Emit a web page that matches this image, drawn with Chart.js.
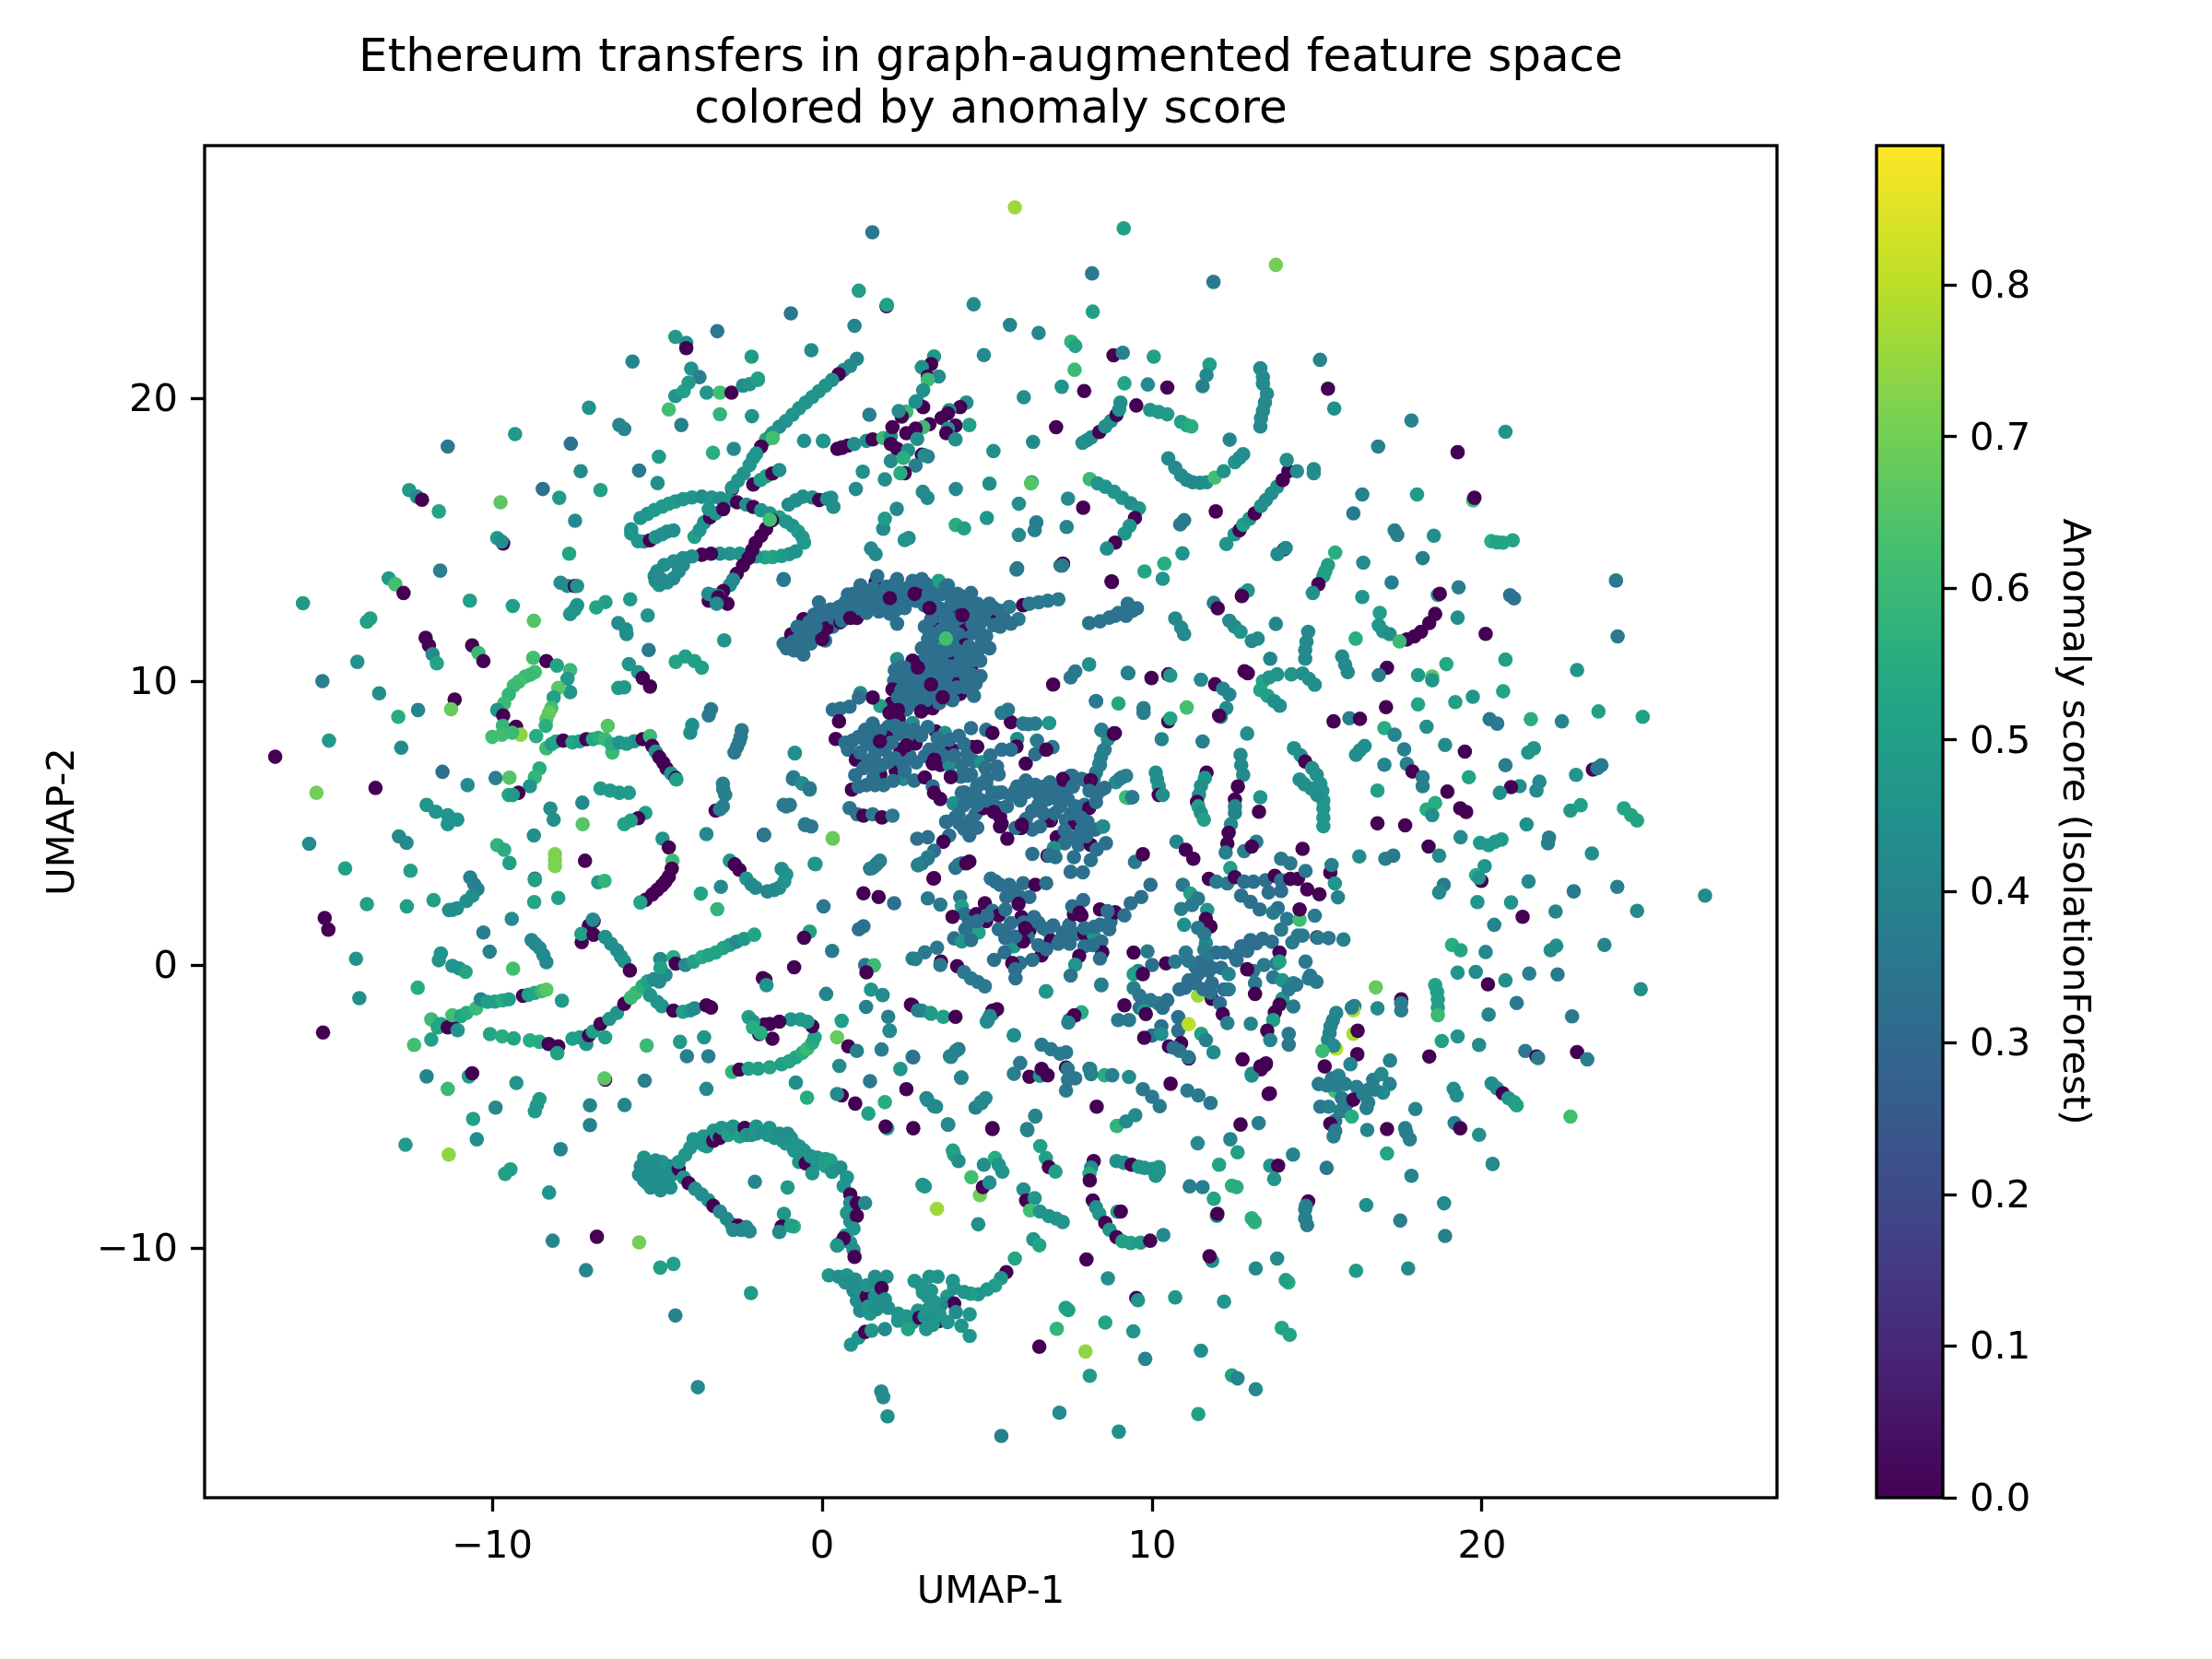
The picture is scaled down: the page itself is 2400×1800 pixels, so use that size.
<!DOCTYPE html>
<html>
<head>
<meta charset="utf-8">
<title>Ethereum transfers</title>
<script src="https://cdn.jsdelivr.net/npm/chart.js@4"></script>
<style>
  html, body { margin: 0; background: #fff; }
  #wrap { position: relative; width: 2400px; height: 1800px; }
  canvas { position: absolute; top: 0; }
</style>
</head>
<body>
<div id="wrap">
  <canvas id="scatter" width="2400" height="1800" style="left:0"></canvas>
  <canvas id="colorbar" width="400" height="1800" style="left:2000px"></canvas>
</div>
<script>
// tick labels
const xTicks = [-10, 0, 10, 20];
const yTicks = [-10, 0, 10, 20];
const barTicks = [0, 0.1, 0.2, 0.3, 0.4, 0.5, 0.6, 0.7, 0.8];
const scoreMax = 0.892;

// viridis
const viridisStops = ['#440154', '#482475', '#414487', '#355f8d', '#2a788e', '#21918c', '#22a884', '#44bf70', '#7ad151', '#bddf26', '#fde725'];

// points: [umap1, umap2, score]
const upperLeft = [
[-0.95,23.0,.36],[0.98,22.56,.4],[-3.18,22.37,.36],[-4.45,22.17,.48],[-4.12,21.96,.44],[-4.12,21.77,0],[-0.33,21.7,.42],[-5.75,21.3,.4],[-2.14,21.47,.48],[-3.97,21.05,.45],[-3.72,20.75,.38],
[-4.45,20.08,.46],[-4.2,20.25,.5],[-4.05,20.55,.48],[-3.5,20.2,.46],[-3.1,20.2,.62],[-2.75,20.2,0],[-2.4,20.45,.42],[-2.2,20.5,.46],[-1.95,20.65,.52],[-1.95,20.7,.5],
[-7.07,19.67,.45],[-9.31,18.74,.48],[-11.35,18.3,.36],[-7.62,18.4,.34],[-6.15,19.06,.4],[-6.0,18.92,.4],[-4.65,19.61,.62],[-4.27,19.06,.38],[-3.1,19.44,.58],[-2.13,19.37,.45],[-3.31,18.08,.55],[-2.68,18.22,.42],[-4.95,17.94,.48],[-5.55,17.45,.36],[-7.32,17.43,.42],[-4.99,17.01,.44],[-6.72,16.76,.5],[-8.47,16.8,.34],[-7.97,16.49,.48],[-9.75,16.33,.66],[-7.49,15.68,.42],[-12.52,16.76,.48],[-12.28,16.53,.42],[-12.13,16.42,0],[-11.62,16.01,.52],[-9.85,15.07,.48],[-9.67,14.88,0],[-9.72,14.95,.44],[-7.67,14.52,.52],[-11.58,13.92,.38],[-13.14,13.65,.48],[-12.94,13.44,.62],[-12.69,13.13,0],[-7.93,13.49,.44],[-7.72,13.38,.44],[-7.5,13.38,0],[-7.43,13.38,.45],[-5.82,12.91,.48],[-6.57,12.81,.5],[-6.85,12.62,.52],[-7.43,12.7,.46],[-7.5,12.55,.46],[-7.64,12.39,.46],[-5.29,12.34,.46],[-15.74,12.77,.48],[-10.68,12.86,.5],[-9.38,12.67,.5],[-8.74,12.15,.65],[-13.7,12.23,.5],[-13.8,12.12,.5],[-6.18,12.07,.42],[-5.93,11.68,.44],[-5.95,11.85,.44],[-2.97,11.46,.46],[-1.17,13.59,.36],
[-12.02,11.55,0],[-11.92,11.28,0],[-11.81,10.97,.42],[-11.68,10.65,.52],[-10.61,11.28,0],[-10.42,11.01,.6],[-10.27,10.73,0],[-5.26,11.12,.36],[-4.44,10.7,.52],[-4.15,10.89,.5],[-3.87,10.73,.5],[-3.65,10.49,.5],[-5.86,10.62,.46],[-5.58,10.34,.46],[-5.44,10.13,0],[-5.22,9.83,0],[-14.09,10.7,.45],[-15.15,10.02,.38],[-13.43,9.59,.44],[-11.14,9.37,0],[-11.25,9.03,.68],[-12.25,9.0,.4],[-12.85,8.76,.55],[-6.18,9.78,.48],[-6.0,9.8,.48],[-3.37,9.03,.36],[-3.44,8.81,.36],[-3.94,8.47,.44],[-4.0,8.2,.44],[-2.44,8.29,.36],[-2.47,8.05,.36],[-2.51,7.89,.36],[-2.58,7.7,.36],[-2.66,7.5,.36],[-0.83,7.47,.42],[-14.95,7.92,.48],[-12.76,7.67,.42],[-16.58,7.35,0],[-11.51,6.82,.33],[-13.54,6.25,0],[-15.33,6.08,.7],[-10.75,6.35,.42],[-9.9,6.6,.38],[-9.48,6.61,.65],[-7.27,5.73,.42],[-8.24,5.52,.44],[-8.14,5.13,.44],[-7.26,4.97,.65],
// green loop
[-8.76,10.84,.62],[-8.71,10.34,.62],[-8.85,10.25,.6],[-9.0,10.18,.6],[-9.2,10.0,.62],[-9.35,9.86,.6],[-9.5,9.55,.58],[-9.64,9.23,.6],[-9.85,9.0,.46],[-9.67,8.81,0],[-9.68,8.44,.58],[-9.28,8.41,0],[-9.14,8.13,.74],[-9.71,8.13,.62],[-10.0,8.05,.62],[-9.4,8.2,.6],[-8.67,8.08,.55],[-8.36,10.73,0],[-8.04,10.57,.52],[-7.64,10.41,.6],[-7.72,10.1,.48],[-7.64,9.63,.46],[-8.0,9.78,.66],[-8.14,9.44,.5],[-8.21,9.07,.62],[-8.28,8.9,.68],[-8.36,8.68,.66],[-8.38,8.44,.56],
// horizontal green/purple line
[-8.36,7.65,.6],[-8.2,7.8,.5],[-8.07,7.89,.52],[-7.85,7.92,0],[-7.57,7.86,.52],[-7.35,7.9,.5],[-7.15,7.97,0],[-6.95,7.97,.52],[-6.79,8.02,.56],[-6.5,8.44,.65],[-6.58,7.97,.6],[-6.36,7.5,.6],[-6.4,7.8,.55],[-6.15,7.85,.46],[-5.93,7.81,.48],[-5.7,7.9,.46],[-5.44,7.97,0],[-5.22,8.08,.6],[-5.15,7.73,0],[-5.05,7.53,.46],[-4.94,7.34,0],[-4.82,7.14,0],[-4.72,6.94,0],[-4.58,6.76,.46],[-4.44,6.6,0],[-4.42,6.55,.5],
[-8.57,6.94,.55],[-8.71,6.63,.58],[-8.86,6.31,.46],[-9.21,6.08,0],[-9.5,6.0,.52],[-9.38,6.0,.48],[-6.72,6.23,.48],[-6.43,6.16,.48],[-6.15,6.08,.48],[-5.86,6.08,.48],[-3.01,6.4,.38],[-2.94,6.0,.38],[-3.0,6.2,.38],[-3.01,5.6,.38],[-3.23,5.45,0],[-3.1,5.5,.38],[-1.09,5.6,.36],[-.87,6.63,.42],[-.6,6.4,.42],[-.38,6.19,.42],[-.52,4.97,.4],
[-11.99,5.65,.46],[-11.71,5.41,.46],[-11.35,5.29,.46],[-11.06,5.13,.46],[-11.35,4.97,.46],[-6.0,4.97,.52],[-5.36,5.37,.5],[-5.58,5.18,0],[-5.8,5.1,.5],
// long diagonal
[1.05,21.4,.4],[.85,21.15,.42],[.65,21.0,.42],[.5,20.85,0],[.3,20.65,.44],[.1,20.45,.46],[-.1,20.25,.46],[-.3,20.05,.46],[-.5,19.85,.46],[-.7,19.65,.46],[-.9,19.42,.46],[-1.1,19.2,.46],[-1.3,19.0,.44],[-1.5,18.78,.46],[-1.7,18.55,.52],[-1.55,18.7,.46],[-1.5,18.6,.62],[-1.85,18.3,0],[-2.0,18.05,.46],[-2.09,17.9,.46],[-2.2,17.65,.46],[-2.38,17.35,.46],[-2.55,17.1,.46],[-2.73,16.8,0],[-2.73,16.85,.46],[-2.94,16.4,.46],
[-2.09,16.96,0],[-1.87,17.12,.48],[-1.7,17.25,.5],[-1.51,17.35,0],[-1.3,17.47,.44],
// loop
[-5.79,15.38,.46],[-5.51,15.78,.46],[-5.3,15.92,.46],[-5.08,16.06,.48],[-4.85,16.18,.48],[-4.65,16.28,.48],[-4.45,16.36,.48],[-4.22,16.44,.46],[-3.95,16.5,.46],[-3.65,16.53,.44],[-3.35,16.5,.46],[-3.08,16.47,.44],[-2.85,16.4,.46],[-2.58,16.33,0],[-2.3,16.25,.44],[-2.09,16.17,0],[-1.85,16.05,.46],[-1.59,15.94,.46],[-1.3,15.8,.5],[-1.09,15.65,.46],[-.9,15.5,.46],[-.73,15.3,.48],[-.6,15.1,.46],[-.55,14.91,.48],[-.8,14.6,.46],[-1.0,14.5,.46],[-1.23,14.44,.48],[-1.5,14.4,.5],[-1.73,14.39,.52],[-2.0,14.42,.48],
[-5.79,15.23,.46],[-5.58,14.96,.46],[-5.4,14.95,.46],[-5.22,14.99,0],[-5.05,15.1,.46],[-4.86,15.2,.44],[-4.7,15.3,.44],[-4.51,15.34,.44],
[-2.5,14.52,.46],[-2.8,14.52,.46],[-3.1,14.52,.44],[-3.37,14.52,0],[-3.65,14.48,0],[-3.95,14.42,.44],[-4.22,14.36,.44],[-4.5,14.25,.44],[-4.79,14.12,.44],[-5.0,13.9,.42],[-5.08,13.73,.42],[-5.05,13.55,.42],[-4.94,13.41,.44],[-4.7,13.5,.44],[-4.51,13.65,.42],[-4.35,13.9,.42],[-4.22,14.12,.42],[-4.85,13.6,.42],
[-1.52,15.7,0],[-1.7,15.4,0],[-1.85,15.15,0],[-2.02,14.9,0],[-2.12,14.65,0],[-2.23,14.36,0],[-2.4,14.1,0],[-2.59,13.81,0],[-2.7,13.6,.42],[-2.8,13.41,.42],[-3.0,13.2,0],[-3.15,13.02,.42],[-3.44,12.86,0],[-3.45,13.1,.42],[-3.3,13.05,.44],[-3.15,12.98,0],[-2.87,12.75,0],[-3.2,12.75,.42],
[-1.59,15.72,.62],[-3.87,15.11,.5],[-3.72,15.35,.46],[-3.58,15.62,.46],[-3.4,15.8,0],[-3.23,15.94,.46],[-3.44,16.09,.46],[-3.0,16.09,0],
[-1.02,16.25,.42],[-.8,16.4,.44],[-.59,16.53,.44],[-.3,16.5,.44],[-.09,16.41,0],[.15,16.45,.44],[.34,16.17,.44],[.27,16.49,.44]
];

const upperRight = [
[5.84,26.74,.76],[9.14,26,.5],[1.52,25.86,.36],[1.11,23.8,.5],[1.95,23.25,0],[1.96,23.3,.5],[8.18,24.41,.36],[13.75,24.71,.7],[11.86,24.11,.36],[4.59,23.32,.42],[8.2,23.06,.5],[5.69,22.59,.4],[6.56,22.31,.42],[7.55,22.0,.58],[7.67,21.85,.52],[7.65,21.01,.6],[4.9,21.53,.42],[8.83,21.52,0],[9.11,21.61,.38],[10.05,21.47,.5],[11.74,21.19,.5],[11.65,20.82,.42],[11.53,20.43,.38],[13.28,21.06,.42],[13.36,20.75,.42],[13.36,20.51,.42],[13.48,20.16,.42],[13.42,19.85,.42],[13.36,19.56,.42],[13.3,19.3,.42],[13.28,19.01,.42],[15.09,21.36,.4],[15.33,20.34,0],[15.52,19.64,.44],[6.11,20.04,.44],[7.26,20.41,.46],[7.94,20.26,0],[9.16,20.53,.52],[9.87,20.49,.42],[10.46,20.38,0],[7.09,18.98,0],[6.39,18.46,.42],[5.19,18.14,.44],[12.35,18.54,.4],
[7.89,18.43,.44],[8.02,18.52,.44],[8.15,18.62,.44],[8.4,18.81,0],[8.58,19.01,.44],[8.75,19.2,.44],[8.92,19.41,0],[9.0,19.6,.44],[9.04,19.85,.44],
[9.52,19.75,0],[9.94,19.59,.46],[10.2,19.52,.48],[10.46,19.44,.48],[10.88,19.17,.5],[11.05,19.05,.52],[11.19,19.01,.56],
[10.49,17.88,.42],[10.7,17.55,.42],[10.88,17.28,.42],[11.05,17.12,.42],[11.23,17.04,.42],[11.45,17.02,.42],[11.65,17.04,.44],[11.9,17.2,.62],[12.17,17.43,.46],[12.51,17.75,.46],[12.65,17.9,.44],[12.76,18.03,.44],
[12.25,14.86,.46],[12.5,15.2,.46],[12.65,15.35,0],[12.76,15.54,.5],[12.95,15.75,.46],[13.11,15.94,0],[13.3,16.2,.44],[13.45,16.41,.44],[13.62,16.65,.44],[13.79,16.88,.44],[13.96,17.12,0],[14.13,17.43,0],[14.08,17.83,.44],[14.39,17.43,.42],[14.9,17.36,.44],[14.9,17.5,.42],
[8.11,17.15,.6],[8.35,17.0,.46],[8.58,16.88,.46],[8.85,16.7,.46],[9.09,16.49,.46],[9.35,16.3,.44],[9.6,16.12,.46],[9.48,15.78,0],[9.32,15.5,.46],[9.17,15.23,.46],[8.88,14.91,0],[8.63,14.7,.44],
[5.07,16.99,.44],[4.05,16.8,.42],[3.19,16.49,.42],[3.05,16.7,.42],[6.35,17.04,.5],[6.33,17.0,.65],[7.45,16.46,.42],[5.96,16.28,.44],[7.91,16.14,0],[11.93,16.01,0],[4.99,15.78,.46],[4.05,15.53,.55],[4.3,15.41,.5],[6.49,15.62,.38],[6.44,15.35,.38],[5.96,15.18,.42],[7.41,15.46,.4],[10.97,15.7,.36],[10.85,15.55,.36],[16.37,16.61,.38],[16.1,15.94,.36],[18.03,16.61,.48],[17.86,19.22,.4],[19.26,18.1,0],[20.71,18.82,.46],[16.85,18.3,.38],[19.73,16.4,.62],[19.77,16.49,0],[17.35,15.34,.38],[17.43,15.18,.38],[18.54,15.15,.44],[20.28,14.96,.56],[20.45,14.92,.52],[20.63,14.91,.52],[20.93,14.99,.52],[18.2,14.36,.38],[16.4,14.2,.42],[14.0,14.67,0],[14.05,14.72,.42],[13.8,14.5,.42],
[15.55,14.56,.55],[15.33,14.12,.5],[15.25,13.9,.5],[15.19,13.73,.5],[15.04,13.44,0],[14.87,13.13,.44],[5.89,13.96,.38],[7.29,14.17,0],[7.22,14.1,.38],[10.92,14.53,.46],[10.37,14.17,.55],[9.77,13.89,.52],[10.32,13.63,.46],[8.78,13.52,0],[17.26,13.5,.38],[12.9,13.22,.46],[12.76,13.1,.46],[12.72,13.02,0],[16.37,12.99,.46],[18.66,13.06,.46],[18.72,13.1,0],[19.29,13.33,.38],[20.97,12.94,.34],[20.85,13.05,.34],[24.06,13.57,.36],[24.11,11.6,.36],[20.11,11.69,0],[19.26,12.26,.44],
[16.9,12.43,.5],[16.87,11.99,.46],[17.0,11.78,.46],[17.2,11.68,.44],[17.72,11.49,0],[17.5,11.42,.6],[17.95,11.6,0],[18.15,11.76,0],[18.4,12.07,0],[18.58,12.39,0],
[13.75,12.04,.4],[11.87,12.78,.38],[11.99,12.59,0],[12.34,12.15,.42],[12.5,11.95,.42],[12.68,11.76,.46],[13.02,11.44,.42],[13.2,11.52,.42],[10.7,12.23,.42],[10.88,11.91,.42],[10.97,11.68,.42],
[14.73,11.76,.42],[14.68,11.4,.42],[14.64,11.12,.42],[14.64,10.81,.42],[16.17,11.52,.55],[20.71,10.78,.5],[18.92,10.62,.54],[22.88,10.41,.46],[18.49,10.18,.66],[18.06,10.23,.48],[18.49,10.05,.46],[17.12,10.49,0],[16.87,10.23,.38],[15.76,10.89,.42],[15.85,10.6,.42],[15.93,10.34,.42],[13.58,10.81,.4],[12.8,10.37,0],[12.9,10.3,0],
[13.36,10.02,.52],[13.55,10.15,.46],[13.79,10.26,.46],[14.22,10.26,.46],[14.56,10.29,.44],[14.75,10.1,.44],[14.93,9.89,.44],[13.28,9.7,.52],[13.5,9.5,.5],[13.7,9.31,.44],[13.87,9.15,.44],
[11.48,10.07,.42],[11.91,9.91,0],[12.15,9.75,.4],[12.34,9.55,.4],[12.25,9.07,.42],[12.08,8.76,.4],[12.03,8.8,0],[10.49,10.26,0],[9.98,10.13,0],[9.28,10.3,.4],[10.55,10.22,.46],[8.3,9.31,.38],[9.74,9.07,.38],[9.74,8.9,.38],[11.05,9.09,.62],[10.49,8.6,0],[10.55,8.7,.52],[10.29,7.97,.4],[11.53,7.89,.38],[12.88,8.17,.44],[15.5,8.6,0],[15.98,8.71,.38],[16.3,8.69,0],[17.09,9.1,0],[18.06,9.2,.52],[19.19,9.28,.5],[19.72,9.47,.46],[20.64,9.66,.52],[20.23,8.68,.36],[20.46,8.52,.36],[21.48,8.68,.55],[22.42,8.6,.4],[23.53,8.95,.5],[24.87,8.76,.5],[17.04,8.36,.55],[17.35,8.13,.4],[18.32,8.41,.44],[18.88,7.77,.42],[19.48,7.53,0],[17.64,7.61,.38],[16.44,7.73,.44],[16.18,7.42,.44],[16.3,7.58,.44],[21.57,7.65,.46],[21.4,7.5,.46],[20.71,7.05,.38],[23.62,7.05,.36],[23.36,6.9,0],[23.5,6.95,.36],[22.85,6.71,.46],[17.04,7.07,.4],[17.72,7.1,.38],[17.89,6.83,0],[18.2,6.63,.38],[18.2,6.31,.38],[19.6,6.63,.52],[21.14,6.31,.44],[20.88,6.28,0],[20.54,6.08,.44],[21.74,6.47,.42],[21.65,6.16,.42],[16.83,6.16,.5],[18.95,6.12,0],[18.58,5.72,.55],[18.32,5.49,.55],[18.49,5.29,.44],[19.34,5.53,0],[19.52,5.4,0],[22.68,5.45,.48],[22.99,5.64,.5],[24.3,5.53,.52],[24.52,5.29,.52],[24.7,5.1,.52],[21.35,4.96,.44],[16.83,5,0],[17.67,4.93,0],
[14.3,7.65,.44],[14.5,7.4,.44],[14.64,7.18,0],[14.85,6.95,.44],[14.99,6.71,.44],[15.1,6.4,.46],[15.16,6.15,.46],[15.19,5.8,.46],[15.19,5.52,.46],[15.19,5.2,.46],[15.19,4.9,.46],[14.47,6.55,.44],[14.62,6.38,.44],[14.82,6.23,.44],[15.0,6.0,.44],
[12.68,7.42,.42],[12.7,7.05,.42],[12.76,6.71,.42],[12.6,6.3,0],[12.51,5.84,0],[12.51,5.6,.4],[12.51,5.37,.4],[11.65,6.79,0],[11.6,6.6,.46],[11.48,6.32,.44],[11.42,6.0,.44],[11.36,5.76,0],[11.4,5.6,.5],[11.48,5.37,.44],[11.57,5.13,.5],[13.28,5.92,.46],[13.24,5.41,0],[12.39,4.97,.42],[10.11,6.79,.44],[10.15,6.55,.44],[10.2,6.31,.44],[10.2,6.0,0],[10.32,6,.44],[9.09,6.63,.42],[8.9,6.45,.42],[9.38,5.92,.42],[9.28,5.9,.42],
[8.46,8.29,.42],[8.66,7.97,.42],[8.87,8.18,0],[8.53,7.58,.38],[8.45,7.35,.38],[8.4,7.1,.38],[8.3,6.8,.38],
// star
[3.39,21.48,.48],[3.3,21.21,0],[3.02,21.1,.44],[3.2,20.77,0],[3.53,20.77,.42],[3.2,20.66,.6],[3.06,20.28,.44],[2.88,19.9,.44],[3.06,19.69,0],[1.43,19.42,.38],[2.55,19.53,.6],[2.41,19.36,0],[2.32,19.55,.42],[4.37,19.85,.42],[4.18,19.69,0],[3.85,19.58,.44],[3.81,19.47,0],[3.62,19.31,0],[3.25,19.09,0],[3.06,18.98,.6],[2.83,18.93,0],[4.04,19.04,0],[3.81,18.93,.44],[4.46,19.06,.5],[3.76,18.77,0],[4.04,18.55,.44],[.04,18.49,.46],[.6,18.28,.42],[.46,18.22,0],[.6,18.25,0],[.78,18.33,0],[.97,18.39,.44],[1.34,18.5,.44],[1.53,18.55,0],[1.85,18.6,.6],[2.08,18.66,.44],[2.13,18.98,0],[2.55,18.77,0],[2.88,18.57,.44],[2.08,18.39,0],[2.27,18.22,0],[2.6,18.17,.44],[3.02,18.01,0],[3.2,17.95,.38],[2.83,17.63,.38],[2.08,17.79,.42],[2.46,17.9,.56],[1.23,17.41,.44],[2.5,17.36,0],[2.37,17.36,.55],[1.9,17.14,.44],[1.02,16.8,.42],[2.26,16.1,.42],[1.48,14.7,.42],[1.62,14.5,.42],[2.62,15.07,.44],[2.5,15.0,.46],[3.1,17.99,.42],[2.83,19.88,.44],[.02,18.5,.46],[1.85,15.4,.42],[-.55,18.5,.44],[1.9,15.75,.48]
];

const core = [
[-1.17,11.34,.33],[-.94,11.67,0],[-.61,11.39,.33],[-1.08,11.18,.33],[-.85,11.1,.33],[-.57,10.96,.33],[-.57,12.21,0],[-.75,11.94,.33],[-.43,11.94,.33],[-.25,11.7,.36],[-.05,11.72,.33],[.09,11.45,.33],[-.35,11.35,.33],[-.24,12.37,.33],[-.1,12.8,.33],[-.4,12.1,.33],[.18,12.48,.33],[.0,12.15,.33],[.32,11.94,.33],[.13,11.88,0],[.35,12.25,.33],[.55,12.1,0],[.51,12.64,.33],[.78,13.08,.33],[.88,12.48,.33],[.65,12.35,0],[.7,12.8,.33],[.95,12.85,.33],[1.16,13.4,.33],[1.2,12.91,.33],[1.05,12.25,0],[1.34,12.43,.33],[1.62,13.51,0],[1.67,13.73,.33],[1.76,12.97,.33],[1.45,13.1,.33],[1.5,12.65,.33],[1.72,12.48,.33],[2.09,13.13,0],[2.23,12.91,0],[2.27,13.62,.33],[1.95,13.35,.33],[2.0,12.75,.33],[2.23,12.53,.33],[2.27,12.05,.33],[2.5,12.6,.33],[2.65,13.13,0],[2.74,13.56,.33],[2.55,13.29,.33],[2.4,13.0,.33],[3.02,13.62,.33],[3.02,13.24,0],[2.85,12.85,.33],[3.3,12.75,0],[3.35,13.24,.33],[3.1,12.7,.33],[3.53,13.56,.5],[3.81,13.4,.36],[3.65,13.1,.33],[3.55,12.6,.33],[4.04,12.43,0],[3.98,12.97,.33],[3.8,12.3,.33],[4.32,12,0],[4.51,13.13,.33],[4.3,12.7,.33],[4.6,12.32,.33],[4.7,12.75,.33],[5.07,12.75,.33],[5.11,12.43,0],[4.9,12.2,.33],[5.4,12.5,.33],[5.67,12.64,.36],[6.09,12.7,0],[6.28,12.75,.36],[6.56,12.8,.36],[6.84,12.86,.36],[7.16,12.91,.36],[5.95,12.21,.36],[5.72,12.05,.33],[5.39,11.94,.33],[5.2,12.0,.33],[4.97,11.61,.33],[5.07,11.18,.33],[4.6,11.72,.33],[4.85,11.4,.33],[4.14,11.67,.33],[4.35,11.5,.33],[3.75,11.9,.33],[3.48,12.1,0],[3.11,11.94,.33],[3.21,11.5,.33],[3.5,11.6,.33],[3.02,11.18,.33],[3.39,11.07,.33],[3.76,10.85,.33],[4.32,11.29,0],[4.04,11.15,.33],[4.04,10.74,0],[4.25,10.9,.33],[4.51,10.47,0],[4.79,10.74,.33],[4.51,10.96,.33],[3.62,10.42,.33],[3.21,10.42,.33],[3.4,10.7,.33],[3.0,10.7,.33],[2.74,10.74,0],[2.27,10.8,.42],[2.83,10.36,.33],[2.18,10.04,.33],[2.13,9.73,0],[2.55,10.2,.33],[2.97,9.98,0],[3.3,9.98,0],[3.65,10.05,.33],[4.04,10.04,0],[4.35,10.2,.33],[2.65,9.5,.33],[3.02,9.55,.33],[3.58,9.66,.33],[3.3,9.4,.33],[2.4,9.7,.33],[3.76,9.44,.33],[4.18,9.57,0],[4.6,9.5,.33],[4.65,9.93,.33],[2.09,9.23,0],[1.76,9.14,.5],[1.16,9.6,.42],[1.53,9.44,0],[1.11,9.44,.33],[.83,9.12,.33],[.32,9.01,.33],[.55,9.05,.33],[.51,8.6,0],[3.11,9.06,0],[3.35,9.06,0],[2.85,9.2,.33],[3.55,9.25,.33],[2.55,9.01,.33],[2.32,8.68,0],[2.04,8.9,0],[2.74,8.54,.44],[2.27,8.14,.33],[1.53,8.52,.33],[2,8.41,.33],[1.34,7.82,.33],[1.95,8.03,0],[1.6,8.1,.33],[.41,7.98,0],[.78,7.6,.33],[.92,7.92,.33],[1.02,7.25,0],[1.58,7.38,.33],[1.25,6.95,.33],[1.76,6.73,0],[2.23,6.86,0],[2,7.16,.33],[2.46,6.57,.42],[2.65,7.38,.33],[2.83,7.82,0],[2.37,7.6,0],[2.6,8.1,.33],[3.0,8.1,.33],[3.44,8.25,0],[3.72,8.19,.44],[4.14,8.09,.33],[4.51,8.36,.33],[4.97,8.3,.33],[5.16,8.19,0],[3.58,7.76,.33],[3.93,7.6,0],[4.56,7.69,0],[4.3,7.8,.33],[3.11,7.38,.33],[3.35,7.11,0],[3.58,7.06,0],[3.86,7.06,.44],[4.23,7.06,.33],[4.6,7.2,.33],[4.83,7.16,.46],[1.34,6.35,.33],[.9,6.19,0],[1.1,6.3,.33],[1.6,6.35,.33],[1.86,6.35,.33],[2.15,6.5,.33],[2.79,6.51,.33],[3.11,6.62,0],[3.35,6.3,.33],[3.58,5.86,0],[3.39,6.08,0],[3.9,6.68,.33],[4.51,6.73,.33],[4.2,6.65,.33],[5.35,6.73,.33],[5.0,6.6,.33],[5.44,7.6,.33],[5.72,8.57,0],[6.09,8.52,.36],[6.46,8.52,.36],[6.25,8.5,.36],[6.88,8.54,.46],[6.51,7.92,.36],[5.91,7.98,.42],[5.89,7.71,0],[6.17,7.11,0],[6.46,7.44,.33],[6.98,7.69,.36],[6.79,7.6,0],[5.72,7.6,.33],[5.63,9.01,.36],[5.44,8.9,.36],[8.47,8.3,.38],[8.84,8.17,0],[8.56,7.6,.38],[8.42,7.06,.38],[8.23,6.57,.36],[8.47,6.19,.33],[8,6.51,.33],[7.53,6.68,.33],[7.3,6.57,0],[6.74,6.19,.33],[6.17,6.51,.33],[5.91,6.3,.33],[5.35,6.08,.33],[4.88,5.54,0],[5.44,5.54,.33],[3.98,5.7,.46],[4.23,6.08,.33],[4.42,5.97,.33],[4.83,6.41,.33],[5.44,4.99,0],[6,5.86,.33],[6.37,5.43,.33],[6.84,5.86,.33],[7.21,6.08,.33],[7.86,5.54,.33],[7.4,5.1,.33],[8.51,4.89,.46],[8.05,5.54,0],[6.93,5.1,0],[3.76,5.05,.33],[4.04,5.21,.33],[4.65,5.32,.33],[6,4.83,0],
// outlying bits near the core
[-1.17,13.62,.36],[5.91,14,.36],[7.3,14.16,0],[7.28,14.1,.36],[8.77,13.54,0],[9.26,10.31,.38],[8.09,10.61,.44],[7.67,10.36,.36],[7.53,10.15,.36],[7,9.9,0],[8.3,9.31,.36],[8.98,9.23,.52],[-.83,7.49,.44],[-.89,6.57,.36],[-.61,6.41,.42],[-.38,6.24,.36],[-1.17,5.65,.36],[-.98,5.65,.36],[-.52,4.94,.36],[-.33,4.89,.36],[.83,5.54,.34],[1.06,5.32,.34],[1.25,5.27,0],[1.53,5.32,.36],[1.81,5.21,0],[2.13,5.27,.36],[9.02,6.57,.38],[9.21,6.68,.38],[9.21,5.92,.6],[9.4,5.92,.36],
[8.09,12.07,.34],[8.42,12.13,.34],[8.7,12.26,.34],[8.98,12.43,.34],[9.26,12.75,.34],[9.54,12.59,.34],[9.21,12.32,.34],[8.88,12.32,.34],[9.4,12.5,.34]
];

const lowerCentre = [
[4.32,6.09,.33],[3.9,6.63,0],[4.41,6.68,.33],[4.69,6.3,.33],[4.97,6.41,.33],[5.16,6.09,.33],[5.44,6.09,.33],[5.72,5.98,.33],[6,5.81,.33],[6.18,6.41,.33],[6.46,6.36,.33],[6.74,6.3,.33],[7,6.2,.33],[7.3,6.09,.33],[7.58,6.68,.33],[7.3,6.54,0],[7.86,6.57,.33],[8.14,6.52,0],[8.56,6.25,.33],[8.32,6,.33],[7.95,5.65,.33],[8.09,5.54,0],[7.67,5.6,.33],[7.21,5.6,.33],[6.74,5.81,.33],[6.88,5.16,.33],[6.83,5.11,0],[6.37,5.44,.33],[6.18,5.16,.33],[6.37,4.78,.33],[6.6,4.89,.33],[6.04,4.84,0],[5.86,4.84,.33],[7.39,5.11,.33],[7.67,5.0,0],[8.04,5.06,.33],[7.86,4.78,.33],[8.28,4.78,.33],[8.51,4.89,.42],[7.11,4.51,0],[7.35,4.3,.33],[7.02,4.13,.44],[7.77,4.24,.33],[8.14,4.24,0],[8.6,4.3,.33],[8.32,4.08,.33],[8.14,3.7,.33],[7.63,3.81,.33],[7.53,3.29,.33],[7.9,3.27,.33],[6.83,3.86,0],[6.88,3.86,.33],[6.37,3.92,.33],[7.07,3.81,.33],
[4,5.71,.44],[3.76,5.06,.33],[4.13,5.33,.33],[4.51,5.11,.33],[4.46,4.57,.33],[4.88,5.54,0],[4.74,5.87,.33],[5.39,4.89,0],[5.39,5.22,0],[5.61,4.46,0],[3.85,4.57,.33],[3.67,4.35,0],[2.88,4.46,.33],[3.2,4.51,.33],[3.39,4.03,.33],[3.2,3.81,.48],[2.92,3.54,.33],[4.23,3.59,.33],[4.46,3.65,0],[4.04,3.43,.33],[1.67,3.59,.33],[1.53,3.43,.33],[3.39,3.07,0],[.32,4.48,.72],[-.2,3.56,.5],[1.25,2.53,0],[1.71,2.4,0],[2.18,2.18,.33],[.04,2.07,.36],[1.11,1.26,.33],[1.25,1.37,.33],[.3,.5,.36],[1.3,0,.36],[1.57,-.01,.6],[1.34,-.26,0],
[3.02,3.59,.36],[3.2,3.76,.36],[4.13,3.54,.36],[4.37,3.59,0],[3.37,3.05,0],[5.11,3.05,.36],[5.39,2.83,.33],[5.67,2.83,.33],[6.09,2.89,.33],[6.46,2.83,0],[6.79,2.89,.33],[5.25,2.95,.33],[5.58,2.4,.33],[6,2.4,.33],[6.28,2.4,.33],[5.8,2.6,.33],[5.95,2.16,0],[3.2,2.35,.36],[3.58,2.13,.36],[4.18,2.4,.36],[4.23,2.07,.5],[4.93,2.18,0],[5.16,1.91,.33],[4.32,1.8,.33],[3.95,1.7,0],[4.67,1.8,0],[4.97,1.55,0],[5.35,1.75,0],[5.35,1.26,.33],[5.53,1.21,.33],[4.74,1.15,.52],[4.34,1.26,.33],[4,.94,.33],[4.23,.83,.46],[4.51,.88,.33],
[6.04,1.69,0],[6.42,1.69,.33],[5.72,1.48,.33],[6.28,1.21,0],[6.23,.99,.33],[5.81,.66,.46],[6.09,.83,0],[5.53,.45,.33],[5.21,.18,.33],[6,.07,.33],[5.76,.07,0],[5.86,-.47,.33],[5.85,-.15,.33],[6.83,1.21,.46],[6.93,.86,0],[6.65,.34,0],[6.37,.18,.33],[6.79,.56,.33],[7.21,.88,.33],[7.49,.99,.33],[7.72,1.1,.33],[7.95,1.1,0],[7.95,.66,.33],[8.23,1.04,.46],[8.42,1.42,.33],[8.74,1.53,.33],[8.7,1.26,.33],[8.46,.83,.33],[8.49,.45,0],[8.42,.23,.33],[7.79,.32,0],[7.67,.01,.46],[7.53,-.37,.34],[7.49,1.42,.33],[7.63,1.8,0],[7.58,2.07,.33],[7.91,2.29,.33],[8.42,1.96,0],[8.88,1.86,0],[8.65,1.9,.33],[9.16,1.75,.33],[9.35,2.18,.33],[9.67,2.4,.33],[9.95,2.83,.33],[7.86,1.75,0],
[8.46,-.69,.38],[2.69,-1.4,0],[3.02,-1.61,.46],[3.3,-1.72,.46],[3.67,-1.83,.5],[4.04,-1.83,0],[2.74,.23,.36],[3.11,.45,.36],[3.48,.61,.36],[3.6,.12,0],[3.58,0,.36],[4.09,-.04,0],[4.3,-.25,.36],[4.51,-.47,.36],[4.72,-.6,.36],[4.93,-.75,.36],[6.79,-.93,.5],[5.16,-1.72,.36],[5.02,-1.94,.36],[5.3,-1.56,0],[7.67,-1.78,0],[7.49,-1.94,.36],[7.86,-1.67,.55],[5.81,-2.48,.38],[2,-1.83,.38],[2.04,-2.32,.38],[6.65,-2.81,.36],[6.93,-2.97,.36],[7.21,-3.13,.36],[7.39,-3.08,.36],[7.39,-3.62,0],[7.44,-3.67,.36],[7.39,-4.43,.36],[7.45,-4.05,.36],[7.67,-4,.36],[6,-3.46,.36],[5.81,-3.84,.38],[6.28,-3.94,0],[6.6,-3.91,.46],[6.65,-3.67,0],[6.83,-3.89,0],[4.13,-2.97,.36],[3.9,-3.24,.36],[2.74,-3.24,.36],[2.37,-3.67,.46],[4.21,-3.98,.38],[2.55,-4.38,0],[3.16,-4.7,.4],[3.39,-4.98,.38],[4.83,-4.87,.38],[4.65,-5.03,.38],[3.81,-5.63,.38],[2.76,-5.76,0],[5.16,-5.76,0],[6.21,-5.79,.36],[8.12,-3.67,.38],[8.56,-3.89,.55],[8.79,-3.89,.38],[9.3,-3.95,.42],[9.72,-4.38,.36],[10,-4.65,.36],[10.23,-4.98,.36],[8.32,-5,0],[8.93,-5.68,.58],[9.21,-5.52,.42],[9.49,-5.3,.42],[6.46,-5.32,.38],[10.56,-4.19,0],[11.07,-4.43,.36],[11.4,-4.6,.36],[11.77,-4.87,.36]
];

// extra overlapping points where the core and the big arcs look solid
const coreFill = [
[-.9,11.4,.33],[-.7,11.55,.33],[-.5,11.65,.33],[-.2,11.95,.33],[.05,12.4,.33],[.25,12.55,.33],[.45,12.45,.33],[.6,12.15,.33],[.75,12.6,.33],[.95,12.55,.33],[.95,13.1,.33],[1.1,12.6,.33],[1.3,12.75,.33],[1.3,13.2,.33],[1.55,13.3,.33],[1.6,12.8,.33],[1.85,13.1,.33],[1.85,12.55,.33],[2.05,12.4,.33],[2.15,13.4,.33],[2.35,13.3,.33],[2.4,12.7,.33],[2.6,12.85,.33],[2.75,13.25,.33],[2.85,13.5,.33],[3.15,13.45,.33],[3.2,13.05,.33],[3.4,12.9,.33],[3.75,13.35,.33],[3.9,12.7,.33],[4.1,13.1,.33],[4.25,13.0,.33],[4.4,12.9,.33],[4.5,12.6,.33],[4.15,12.25,.33],[3.95,12.0,.33],[3.7,12.2,.33],[3.3,12.2,.33],[3.25,11.75,.33],[3.6,11.8,.33],[3.95,11.55,.33],[4.55,12.05,.33],[4.75,11.95,.33],[4.95,12.45,.33],[5.2,12.6,.33],[5.5,12.25,.33],[4.75,12.45,.33],
[2.5,10.5,.33],[2.75,10.15,.33],[3.0,10.25,.33],[3.15,10.05,.33],[3.45,10.25,.33],[3.8,10.25,.33],[4.05,10.4,.33],[4.3,10.55,.33],[4.55,10.25,.33],[4.8,10.2,.33],[4.35,9.8,.33],[4.1,9.8,.33],[3.85,9.8,.33],[3.5,9.85,.33],[3.15,9.75,.33],[2.85,9.75,.33],[2.5,9.85,.33],[2.3,9.45,.33],[2.55,9.35,.33],[2.8,9.4,.33],[3.15,9.35,.33],[3.5,9.4,.33],[3.95,9.35,.33],[2.2,10.4,.33],[2.4,10.5,.33],[3.95,10.55,.33],[3.7,10.6,.33],[3.2,10.8,.33],[3.6,11.1,.33],[4.2,10.9,.33],[4.55,10.75,.33],[4.75,11.15,.33],[4.45,11.25,.33],[3.85,11.1,.33],[3.3,11.3,.33],
[1.1,8.05,.33],[1.3,8.3,.33],[1.75,8.25,.33],[2.2,8.45,.33],[2.45,8.35,.33],[2.8,8.3,.33],[3.2,8.4,.33],[3.5,8.0,.33],[3.85,7.95,.33],[2.1,7.85,.33],[1.9,7.6,.33],[1.55,7.7,.33],[1.15,7.5,.33],[1.4,7.2,.33],[1.8,7.05,.33],[2.2,7.3,.33],[2.45,7.1,.33],[2.85,7.15,.33],[3.25,7.6,.33],[3.65,7.4,.33],[4.0,7.4,.33],[4.4,7.45,.33],[5.1,7.4,.33],[5.3,7.0,.33],[4.95,6.95,.33],[1.6,6.95,.33],[2.5,6.85,.33],[.7,7.85,.33],[1.0,6.7,.33],[1.55,6.6,.33],
[4.55,6.0,.33],[4.7,5.65,.33],[5.0,5.8,.33],[5.25,5.6,.33],[5.6,5.6,.33],[5.85,6.15,.33],[6.2,6.1,.33],[6.55,6.05,.33],[6.9,6.45,.33],[7.15,5.85,.33],[7.45,5.85,.33],[7.6,6.3,.33],[8.1,6.15,.33],[8.3,5.75,.33],[6.55,5.65,.33],[6.7,5.35,.33],[7.05,5.35,.33],[7.55,5.35,.33],[7.85,5.2,.33],[7.35,4.75,.33],[7.6,4.5,.33],[8.0,4.55,.33],[4.3,5.65,.33],[4.15,5.0,.33],[4.3,4.8,.33],[4.7,4.85,.33],
[5.0,1.75,.33],[5.55,1.95,.33],[5.55,.95,.33],[5.85,1.0,.33],[6.1,1.5,.33],[6.55,1.5,.33],[6.7,1.3,.33],[7.0,1.4,.33],[7.3,1.15,.33],[7.5,.75,.33],[7.95,1.3,.33],[8.25,1.35,.33],[8.2,.7,.33],[7.15,.75,.33],[6.55,.7,.33],[4.7,1.55,.33],[4.45,1.5,.33],
// purple specks showing through, plus the green dot
[.0,11.5,0],[.85,12.25,0],[2.05,12.95,0],[2.8,13.1,0],[3.25,12.6,0],[4.25,12.35,0],[2.9,10.5,0],[3.3,9.9,0],[3.65,9.45,0],[2.3,9.0,0],[3.0,8.95,0],[1.75,7.9,0],[2.55,7.75,0],[3.4,7.25,0],[4.7,7.7,0],[5.2,5.4,0],[6.05,4.95,0],[6.15,1.3,0],[7.8,1.85,0],[3.75,11.52,.62]
];

const centreRight = [
[10.74,4.35,.4],[11.02,4.07,0],[11.25,3.75,0],[12.32,4.67,0],[12.28,4.29,0],[12.23,3.97,.38],[12.37,3.42,.5],[12.79,4.02,.38],[13.16,4.35,.38],[13.02,4.18,0],[14.56,4.1,0],[9.48,3.64,.36],[9.72,3.91,0],
[10.93,2.83,.36],[11.16,2.52,.5],[11.39,2.34,.36],[10.88,1.98,.38],[11.21,2.12,.36],[11.67,1.94,.46],[11.77,1.36,0],[11.63,1.63,0],[10.97,1.42,.44],[11.39,1.31,.36],[11.63,.77,.44],[11.58,1.09,.36],
[11.72,3.04,0],[11.95,2.94,.36],[12.28,2.88,.36],[12.51,3.1,0],[12.79,2.94,.33],[13.07,2.94,.33],[13.44,2.99,.33],[13.72,3.15,0],[13.91,2.99,.33],[14.19,3.04,0],[14.42,3.04,0],[14.7,2.67,0],[15.07,2.5,0],[15.4,3.26,0],[15.44,3.53,.38],[15.54,2.88,.46],[15.63,2.39,.38],[14.65,3.32,.36],[14.19,3.59,.36],[13.91,3.75,.36],[12.7,2.45,.33],[12.98,2.23,.33],[13.26,1.96,.33],[13.53,2.56,.33],[13.91,2.61,.33],[13.81,2.01,.33],[13.67,1.85,.36],[14.09,1.63,.36],[14.47,1.6,.62],[13.91,1.25,.36],[14.42,1.04,.36],[14.56,1.04,.36],[14.93,1.74,.36],[14.47,1.96,0],[15,.98,0],[15.02,.96,.36],[15.35,.95,.36],[15.8,.9,.38],[14.25,.8,.36],
[10,0,.33],[10.42,.06,0],[10.7,.12,.36],[11.02,.44,.36],[11.3,-.05,.33],[11.58,.55,.38],[11.95,.44,.33],[12.18,.44,.33],[12.51,.33,.33],[12.7,.66,.33],[12.98,.88,.33],[13.35,.93,.33],[12.56,.17,.33],[12.88,.5,.33],[13.16,.77,.33],[13.63,.82,.33],[11.65,.2,.36],[11.8,-.1,.33],[11.45,.1,.33],[11.1,.15,.36],
[9.44,.44,0],[9.86,.48,.36],[9.58,-.21,.38],[9.44,-.32,.5],[9.72,-.32,0],[9.44,-.81,.38],[9.62,-1.08,.36],[9.95,-1.24,.36],[10.18,-1.35,.36],[10.32,-1.51,.33],[10.46,-1.24,.33],[10.83,-.86,.33],[11.11,-.54,.33],[11.39,-.32,.33],[11.72,-.21,.33],[12.09,-.1,.33],[12.32,-.32,.4],[12.18,-.86,.33],[12.32,-.86,.36],[11.81,-.64,.33],[11.39,-1.08,.76],[11.81,-1.19,0],[12.05,-1.35,.33],[11.77,-.97,.33],[11.3,-.64,.33],[11,-.8,.33],[11.55,-.85,.33],
[9.16,-1.42,0],[8.97,-1.94,.36],[9.3,-1.94,.36],[9.62,-1.51,.33],[9.76,-1.62,.5],[9.81,-1.73,0],[10.28,-2.16,.33],[10,-2.49,.33],[9.76,-2.57,0],[10.28,-2.43,.44],[10.51,-2.87,0],[10.79,-1.84,.33],[10.79,-2.32,.33],[10.88,-2.76,0],[10.83,-3.03,.36],[11.11,-3.3,0],[11.1,-3.25,.36],[10.65,-2.92,.33],[11.11,-2.09,.8],[11.49,-2.43,.5],[11.63,-2.65,.38],[11.86,-3.08,.42],[12.14,-1.73,0],[12.28,-2.05,.38],[12.74,-3.33,0],[13.02,-3.84,.4],[13.44,-3.52,0],[13.3,-3.68,0],[12.99,-2.07,.4],[13.53,-4.55,0],
[13.07,-.21,.36],[13.12,-.64,.36],[13.12,-1.02,0],[12.88,-.15,0],[13.39,0,.36],[13.77,.06,.36],[13.86,.44,0],[13.86,.12,.5],[13.67,-.43,.36],[13.95,-.54,.46],[13.95,-1.19,.46],[13.86,-1.4,0],[14.28,-1.46,.36],[14.14,-.86,.36],[14.28,-.64,.38],[14.98,-.59,.8],[14.37,-.7,.36],[14.65,.12,.36],[14.75,-.48,.38],[14.98,-.59,.36],[13.72,-1.67,0],[13.67,-1.94,.5],[13.49,-2.32,0],[13.58,-2.65,.4],[14.14,-2.43,.36],[14.14,-2.81,.36],[14.79,-.37,.36],
[16.28,3.83,.42],[17.07,3.75,.38],[17.31,3.86,.36],[18.38,4.18,0],[18.7,3.86,.42],[19.35,4.51,.42],[18.84,2.83,.36],[18.7,2.56,.42],
// south-east hub
[15.05,-4.2,.36],[15.45,-4.0,.36],[15.65,-3.9,.4],[15.85,-4.2,.38],[16.2,-4.3,.38],[16.7,-4.05,.38],[16.95,-3.85,.42],[17.2,-4.2,.38],[17.0,-4.5,.42],[16.55,-4.4,.38],[15.55,-4.45,.6],[15.75,-4.7,.36],[15.9,-4.9,.38],[15.85,-5.15,.36],[15.7,-5.15,.38],[16.1,-4.75,0],[16.55,-4.85,.38],[16.5,-5.05,.38],[16.05,-5.35,.55],[15.1,-5.0,.36],[15.35,-5.0,.38],[15.55,-5.5,.36],[15.4,-5.6,0],[15.55,-5.85,.36],[15.5,-6.05,.38],[15.3,-4.25,.38],[16.4,-4.55,.38],[16.75,-4.4,.38],[15.6,-4.25,.38]
];

const lowerRight = [
[26.76,2.45,.42],[24.7,1.91,.42],[24.1,2.76,.38],[23.33,3.94,.44],[22.03,4.5,.38],[22.0,4.3,.38],[20.59,4.43,.48],[20.4,4.35,.48],[20.2,4.23,.48],[19.94,4.31,.48],[20.08,3.49,.46],[19.82,3.17,.55],[19.98,2.97,0],[19.9,3.08,.46],[21.41,2.95,.42],[22.78,2.6,.36],[19.86,2.22,.46],[20.88,2.21,.46],[22.23,1.89,.4],[21.23,1.7,0],[20.37,1.42,.4],[23.71,.71,.4],[22.25,.68,.44],[22.08,.52,.44],[19.09,.71,.55],[19.35,.52,.52],[20.11,.46,.42],[19.26,-.27,.46],[19.81,-.24,.42],[20.71,-.54,.44],[21.43,-.3,.38],[22.29,-.33,.36],[20.18,-.68,0],[24.81,-.85,.44],[21.05,-1.34,.36],[20.2,-1.75,.4],[22.73,-1.81,.36],
[18.58,-.71,.52],[18.64,-.95,.5],[18.66,-1.21,.5],[18.66,-1.5,.5],[18.66,-1.77,.6],[16.78,-.79,.68],[17.55,-1.21,0],[17.55,-1.35,.38],[17.55,-1.6,.38],[16.83,-1.53,.42],[16.13,-1.45,.38],[16.1,-1.6,.78],[16.05,-1.5,.38],[15.58,-1.69,.4],[15.48,-1.95,.4],[15.41,-2.16,.4],[15.38,-2.4,.4],[15.33,-2.63,.4],[15.58,-2.95,.8],[15.5,-2.85,.42],[15.16,-3.03,.6],[16.1,-2.43,.78],[16.23,-2.32,0],[19.26,-2.52,.46],[18.78,-2.68,.5],[19.91,-2.82,.42],[18.4,-3.23,0],[21.31,-3.03,.36],[21.65,-3.23,0],[21.7,-3.28,.36],[22.88,-3.07,0],[23.19,-3.33,.38],[16.22,-3.15,0],[16.01,-3.5,.4],[15.23,-3.58,0],[17.21,-3.37,.4],[17.98,-5.08,.4],[16.52,-5.82,.4],[17.12,-5.79,0],[17.67,-5.76,.38],[17.7,-5.9,.38],[17.81,-6.15,.38],[20.29,-4.18,.44],[20.45,-4.35,.44],[20.63,-4.53,0],[20.8,-4.7,.46],[20.97,-4.84,.5],[21.05,-4.95,.5],[19.14,-4.37,.44],[19.23,-4.6,.44],[19.17,-5.58,.38],[19.34,-5.76,0],[19.91,-5.99,.44],[22.68,-5.35,.62],[20.32,-7.02,.42],[17.12,-6.65,.52],[17.86,-7.44,.4],[18.85,-8.41,.42],[16.49,-8.47,.44],[17.52,-9.02,.38],[18.88,-9.56,.38],[17.76,-10.71,.42],[16.18,-10.79,.48],[14.13,-11.2,.56],[14.05,-11.12,.5],[13.14,-10.71,.42],[13.79,-10.36,.42],[11.82,-10.44,.44],[11.74,-10.28,0],
[14.73,-8.34,0],[14.66,-8.5,.38],[14.64,-8.63,.38],[14.64,-8.94,.38],[14.7,-9.18,.38],[13.02,-3.9,.44],[13.28,-3.58,0],[13.45,-3.47,0],[13.57,-4.53,0],[12.68,-5.63,0],[13.23,-5.58,.38],[12.37,-6.15,.4],[11.38,-6.29,.42],[12.59,-6.61,.5],[14.27,-6.69,.4],[13.58,-7.08,.46],[13.82,-7.08,0],[15.29,-7.16,.36],[13.7,-7.55,.46],[12.03,-7.05,.52],[11.14,-7.81,.38],[11.53,-7.84,.38],[12.42,-7.79,.56],[12.56,-7.84,.56],[11.87,-8.25,.52],[11.96,-8.85,.46],[11.98,-8.78,0],[13.02,-8.94,.56],[13.11,-9.07,.56],[12.18,-11.88,.46],[10.7,-11.73,.46],[9.52,-11.75,0],[9.57,-11.83,.46],[7.46,-12.18,.5],[7.38,-12.1,.5],[8.58,-12.62,.52],[7.11,-12.84,.58],[9.43,-12.93,.46],[13.93,-12.81,.52],[14.17,-13.05,.52],[6.58,-13.47,0],[7.98,-13.64,.74],[11.48,-13.61,.44],[9.79,-13.9,.4],[8.11,-14.5,.48],[12.42,-14.48,.52],[12.59,-14.59,.4],[13.14,-14.97,.42],[7.19,-15.8,.42],[11.4,-15.85,.5],[8.99,-16.47,.44],[5.43,-16.62,.38],[8.66,-11.06,.44],[8.01,-10.39,0],[6.4,-9.68,.46],[6.58,-9.89,.52],[4.73,-9.15,.44],[3.48,-8.6,.76],[4.78,-8.12,.7],[4.52,-7.49,.62],[4.87,-7.84,0],[5.07,-7.68,.44],[4.9,-7.05,.44],[5.24,-6.81,.55],[5.35,-7.05,.46],[5.46,-7.29,.46],[3.96,-6.55,.5],[4.0,-6.7,.5],[4.13,-6.92,.44],[3.11,-7.81,.46],
[6.1,-7.92,.44],[6.18,-8.31,0],[6.44,-8.23,.46],[6.3,-8.66,.62],[6.6,-8.7,.46],[6.87,-8.86,.46],[7.1,-8.95,.46],[7.29,-9.07,.46],[6.61,-6.39,.5],[6.78,-6.81,.5],[6.87,-7.13,0],[7.07,-7.29,.5],
[8.23,-6.92,0],[8.15,-7.15,.42],[8.1,-7.37,.55],[8.11,-7.6,0],[8.92,-6.92,.44],[9.15,-6.98,.44],[9.38,-7.05,0],[9.6,-7.12,.46],[9.77,-7.16,.46],[10.2,-7.13,.46],[10.0,-7.2,.46],[10.11,-7.44,.46],[10.2,-7.3,.46],
[8.2,-8.31,0],[8.3,-8.55,.44],[8.4,-8.78,.46],[8.58,-9.1,0],[8.71,-9.34,.46],[8.92,-9.6,0],[9.1,-9.75,.5],[9.35,-9.81,.5],[9.65,-9.8,.48],[9.94,-9.73,0],[10.34,-9.53,.42],[8.95,-8.71,.48],[9.05,-8.7,0],
[5.16,-5.79,0],[6.22,-5.83,.4],[6.46,-5.35,.4],[4.81,-4.84,.42],[4.95,-4.7,.42],[3.82,-5.63,.42],[3.19,-4.76,.42],[3.45,-5.0,.42],[4.22,-3.97,.4],[4.05,-3.03,.4],[3.87,-3.22,.4],[5.81,-2.48,.44],[8.1,-3.66,.38],[8.15,-3.85,.38],[5.16,-1.61,0],[5.08,-1.8,.42],[4.99,-2,.42],[7.64,-1.77,0],[7.46,-2.03,.4],[3.28,-1.69,.48],[6.78,-.93,.46],[8.46,-.71,.38],[5.84,-10.36,.52],[5.58,-10.84,0],[5.42,-11.05,.46],[5.24,-11.31,.5],[5.0,-11.45,.48],[4.73,-11.62,.46],[4.5,-11.6,.5],[4.3,-11.54,.46],[3.96,-11.15,.46],[4.0,-11.4,.46],[3.79,-11.7,.46],[4.0,-11.95,0],[3.36,-12.1,.42],[3.6,-12.0,.42],[4.05,-12.25,.42],[4.47,-12.33,.46],[4.22,-12.73,.46],[4.47,-13.09,.46],[3.53,-12.57,0],[3.16,-12.76,.5],[3.8,-12.6,.46],[3.4,-12.45,.46]
];

const lowerLeft = [
[-15.55,4.28,.42],[-14.46,3.41,.5],[-12.83,4.54,.42],[-12.6,4.31,.42],[-12.48,3.33,.5],[-8.74,4.57,.44],[-9.85,4.23,.58],[-9.64,4.07,.55],[-9.48,3.6,.5],[-8.1,3.91,.72],[-8.1,3.49,.72],[-8.1,3.7,.72],[-7.19,3.68,0],[-6.79,2.92,.48],[-6.6,2.97,.58],[-8.71,3.05,.36],[-8.71,3,.5],[-10.67,3.09,.38],[-10.55,2.85,.38],[-10.45,2.68,.38],[-10.6,2.45,.42],[-10.78,2.26,.44],[-11.07,2,.44],[-11.2,1.95,.44],[-11.31,1.94,.44],[-11.78,2.29,.5],[-13.8,2.15,.5],[-12.59,2.07,.5],[-8.73,2.22,.52],[-8,2.37,.5],[-15.08,1.66,0],[-14.97,1.25,0],[-9.41,1.63,.42],[-10.27,1.15,.38],[-10.08,.47,.38],[-8.81,.88,.42],[-8.7,.75,.42],[-8.57,.6,.42],[-8.45,.35,.42],[-8.36,.1,.42],[-14.13,.22,.46],[-11.56,.41,.46],[-11.62,.17,.46],[-11.21,-.03,.46],[-11.0,-.12,.46],[-10.81,-.24,.52],[-9.37,-.13,.62],[-12.26,-.8,.55],[-14.03,-1.17,.44],
[-12.37,-2.82,.62],[-11.85,-2.63,.5],[-11.85,-1.92,.6],[-11.65,-2.2,.52],[-11.56,-2.08,.52],[-11.35,-2.2,0],[-11.21,-2.08,0],[-11.05,-2.3,.46],[-11.21,-1.77,.62],[-10.95,-1.8,.52],[-10.78,-1.69,.55],[-10.49,-1.53,.6],[-10.35,-1.21,.4],[-10.15,-1.3,.5],[-9.92,-1.29,.5],[-9.7,-1.25,.55],[-9.5,-1.21,.5],[-9.07,-1.09,0],[-8.9,-1.05,.5],[-8.71,-.98,.52],[-8.5,-.92,.6],[-8.36,-.87,.66],[-7.89,-1.26,.48],[-15.13,-2.38,0],
[-10.07,-2.44,.52],[-9.7,-2.52,.55],[-9.35,-2.59,.52],[-8.86,-2.66,.55],[-8.57,-2.71,.55],[-8.29,-2.79,0],[-8,-2.87,0],[-8.03,-3.11,.5],[-7.57,-2.6,.5],[-7.35,-2.55,.5],[-7.15,-2.79,.46],[-7.07,-2.48,0],[-6.95,-2.35,.5],[-6.72,-2.08,0],[-6.58,-2.55,.5],[-6.45,-1.9,.46],[-6.22,-1.69,.46],[-6.0,-1.37,0],[-5.8,-1.15,.6],[-5.65,-.98,.6],[-5.45,-.75,.56],[-5.29,-.58,.5],[-5.1,-.5,.42],[-4.94,-.58,.42],[-4.75,-.35,.42],
[-4.91,.21,.42],[-4.9,-.1,.5],[-4.51,.28,.55],[-4.44,.05,0],[-4.15,0,.42],[-3.9,.12,.5],[-3.65,.28,.55],[-3.45,.35,.52],[-3.23,.44,.52],[-3.0,.6,.52],[-2.8,.71,.5],[-2.6,.82,.42],[-2.37,.92,.48],[-2.06,1.07,.52],
[-5.22,-1.06,.46],[-5.0,-1.3,.46],[-4.86,-1.45,.46],[-4.51,-1.61,0],[-4.22,-1.65,.5],[-4,-1.6,.46],[-3.87,-1.53,.42],[-3.51,-1.42,0],[-3.37,-1.5,0],
[-6.93,1.55,0],[-7.07,1.39,0],[-7.29,.81,0],[-7.3,1.1,.5],[-6.93,1.07,0],[-6.58,.99,.44],[-6.4,.75,.44],[-6.22,.52,.44],[-6.1,.3,.44],[-6,.13,.46],[-5.83,-.19,0],[-6.95,1.6,.42],
[-4.84,4.46,.45],[-4.65,4.15,0],[-4.54,3.68,.6],[-4.65,3.12,0],[-4.56,3.4,0],[-4.75,2.95,0],[-4.86,2.81,0],[-5.0,2.65,0],[-5.15,2.49,0],[-5.35,2.3,0],[-5.51,2.21,.52],
[-2.8,3.68,.46],[-2.65,3.55,0],[-2.51,3.36,0],[-2.3,3.05,.46],[-2.15,2.85,.42],[-2.02,2.73,.42],[-1.66,2.6,.4],[-1.45,2.65,.42],[-1.3,2.73,.42],[-1.09,3.2,.46],[-1.23,3.39,.44],[-1.15,2.95,.46],[-3.68,2.52,.52],[-3.07,2.76,.42],[-3.18,1.97,.58],[-.23,3.57,.46],[.32,4.46,.68],[-1.77,4.59,0],[-1.76,4.6,.36],[-3.51,4.62,.42],[1.62,3.52,.38],[1.75,3.68,.38],[1.45,3.4,.38],[2.9,3.52,.38],[-.38,1.18,.5],[-.55,.96,0],[-.85,-.08,0],[-1.8,-.46,0],[-1.72,-.52,0],[-1.69,-.71,.46],[.12,-1.02,.4],[1.48,-.87,.46],[1.83,-1.06,.42],[2.83,.21,.38],[2.73,-1.42,0],[2.9,-1.6,.38],[1.33,-1.48,.38],[.59,-1.97,.5],[2.05,-2.32,.42],[.45,-2.55,.68],[.79,-2.87,0],[1.05,-3.03,.38],[1.8,-2.98,.38],[2.76,-3.26,.34],[.52,-3.56,.42],[1.45,-4.1,.36],[-.8,-4.15,.44],[-.46,-4.68,.55],[.59,-4.6,0],[.45,-4.55,.42],[1.0,-4.89,0],[1.9,-4.84,.55],[1.4,-5.24,.5],[1.97,-5.76,.5],[1.92,-5.7,0],[3.04,-7.76,.46],
[-2.73,-3.77,.58],[-2.51,-3.69,0],[-2.23,-3.66,.5],[-1.94,-3.66,.5],[-1.59,-3.61,.52],[-1.23,-3.5,.5],[-1.0,-3.4,.52],[-.8,-3.26,.52],[-.6,-3.1,.55],[-.45,-2.95,.6],[-.3,-2.75,.55],[-.23,-2.55,.52],[-.3,-2.16,0],[-.45,-2.0,.48],[-.66,-1.92,.48],[-.95,-1.92,.46],[-1.3,-2,0],[-1.59,-2.08,0],[-1.75,-2.1,0],[-1.91,-2.44,0],[-1.51,-2.6,0],[-2.23,-1.84,.5],[-2.09,-2,.46],[-1.87,-2.4,.55],[-2.1,-2.2,.55],[-5.32,-2.84,.6],[-4.31,-2.71,.48],[-4.1,-3.22,.38],[-3.58,-2.55,.46],[-3.45,-3.22,.38],[-10.71,-3.93,.5],[-10.61,-3.82,0],[-11.99,-3.93,.4],[-11.35,-4.37,.6],[-9.27,-4.16,.46],[-6.58,-4.05,0],[-6.6,-4,.66],[-5.38,-4.08,.38],[-3.51,-4.37,.42],[-8.57,-4.73,.48],[-8.65,-4.95,.48],[-8.71,-5.16,.48],[-9.9,-5.03,.42],[-7.04,-4.95,.4],[-5.99,-4.94,.4],[-10.58,-5.43,.5],[-7.04,-5.65,.38],[-10.47,-6.15,.44],[-12.63,-6.34,.48],[-11.32,-6.69,.74],[-7.93,-6.5,.4],[-9.45,-7.21,.5],[-9.61,-7.37,.5],[-8.28,-8.03,.46],[-8.17,-9.73,.4],[-6.83,-9.59,0],[-5.55,-9.79,.7],[-4.91,-10.68,.5],[-4.51,-10.55,.5],[-7.16,-10.77,.4],[-2.16,-11.58,.48],[-4.45,-12.37,.4],[-3.77,-14.9,.42],[1.79,-15.05,.42],[1.85,-15.25,.42],[1.98,-15.93,.44],[-2.04,-7.65,.4],[-1.16,-8.78,.46],[-1.23,-9.23,0],[-1.3,-9.42,.42],[-.86,-9.23,.55],[-.95,-9.2,.5],
// blob + arc at bottom
[-5.4,-6.8,.46],[-5.5,-7.1,.42],[-5.55,-7.4,.42],[-5.4,-7.6,.42],[-5.2,-7.85,.42],[-4.9,-7.95,.44],[-4.85,-7.6,.42],[-4.6,-7.85,.44],[-4.55,-7.4,.46],[-5.2,-7.2,0],[-5.15,-7.4,.46],[-4.95,-7.15,.46],[-4.7,-7.1,0],[-4.85,-6.95,.46],[-5.05,-6.9,.44],[-4.5,-7.1,.44],[-4.35,-7.2,0],[-5.4,-7.45,.44],[-5.3,-7.1,.44],[-5.0,-7.45,.44],[-4.75,-7.4,.44],[-5.3,-7.7,.44],[-5.05,-7.7,.44],[-4.7,-7.65,.44],
[-4.35,-6.95,.46],[-4.15,-6.7,.46],[-4.0,-6.45,.46],[-3.9,-6.15,.46],[-3.8,-6.25,.46],[-3.6,-6.05,.46],[-3.6,-6.35,.46],[-3.5,-6.4,.46],[-3.3,-5.85,.46],[-3.3,-6.2,0],[-3.2,-6.0,.46],[-3.1,-6.1,0],[-3.05,-5.75,.46],[-2.9,-5.8,.46],[-2.85,-6.0,.5],[-2.7,-5.7,.46],[-2.6,-5.85,.46],[-2.5,-6.05,.5],[-2.35,-5.75,0],[-2.3,-6.0,.46],[-2.15,-6.0,.44],[-2.0,-5.7,.46],[-2.0,-5.95,.46],[-1.75,-5.9,.44],[-1.65,-6.0,.46],[-1.6,-5.75,.46],[-1.45,-6.1,.46],[-1.3,-5.95,.44],[-1.2,-6.2,.46],[-1.1,-6.3,.46],[-1.05,-5.95,.44],[-.95,-6.1,.44],[-.85,-6.3,.46],[-.85,-6.55,.46],[-.7,-6.4,.46],[-.55,-6.55,.46],[-.55,-6.85,.46],[-.7,-6.95,.46],[-.5,-7.0,0],[-.35,-6.75,.46],[-.15,-6.8,.46],[-.15,-7.0,.46],[-.3,-7.35,.46],[.1,-6.85,.48],[.1,-7.1,.5],[.25,-6.9,.5],[.3,-7.3,.46],[.55,-7.15,.44],[.75,-7.5,.46],[.65,-7.8,.46],[.85,-8.1,0],[.85,-8.4,.44],[.75,-8.75,.46],[.85,-9.05,.44],[1.05,-8.4,0],[1.3,-8.4,.42],[1.05,-8.85,0],[.95,-9.3,.46],[.7,-9.55,.46],[.5,-9.85,.5],[.85,-9.8,.46],[.65,-9.65,0],[.95,-10.05,.44],[.98,-10.3,0],[.45,-9.9,.46],[-1.05,-7.85,.48],
[-4.2,-7.5,.46],[-4.05,-7.7,0],[-3.85,-7.9,.44],[-3.65,-8.1,.44],[-3.45,-8.3,.44],[-3.3,-8.5,0],[-3.1,-8.7,.42],[-2.9,-8.95,.42],[-2.75,-9.15,.42],[-2.55,-9.2,0],[-2.45,-9.35,.42],[-2.7,-9.35,.42],[-2.3,-9.25,.42],[-2.2,-9.4,.42],
[.2,-10.95,.46],[.5,-11.0,.44],[.75,-10.95,.46],[.7,-11.2,.44],[.9,-11.3,.44],[.95,-11.5,.42],[1.0,-11.1,.44],[1.1,-11.5,.44],[1.05,-11.85,.44],[1.25,-11.9,.44],[1.35,-11.7,0],[1.35,-11.3,.46],[1.6,-11.0,.42],[1.6,-11.7,.44],[1.7,-11.3,.44],[1.95,-11,.44],[1.8,-11.4,0],[1.9,-11.8,.44],[1.15,-12.2,.42],[1.4,-12.05,.46],[1.45,-12.3,.46],[1.65,-12.15,.44],[2,-12.1,.44],[2.3,-12.3,.46],[2.3,-12.55,.46],[2.55,-12.4,.46],[2.75,-12.6,.46],[2.9,-12.2,.46],[2.95,-12.45,0],[3.1,-12.4,.44],[3.2,-12.15,.46],[3.35,-12.7,.46],[3.15,-12.85,.46],[2.6,-12.85,.52],[3.0,-11.3,.48],[3.05,-11.55,.46],[3.2,-11.7,.46],[3.25,-11.0,.46],[3.3,-11.5,.46],[3.5,-11,.46],[3.4,-11.9,.46],[3.55,-12.3,.46],[2.8,-11.15,.46],[.87,-13.4,.46],[1.1,-13.15,.46],[1.3,-12.95,0],[1.5,-12.9,.46],[1.9,-12.85,.42]
];

const allPoints = [...upperLeft, ...upperRight, ...core, ...lowerCentre, ...coreFill, ...centreRight, ...lowerRight, ...lowerLeft];

function viridis(s) {
  const t = Math.min(s / scoreMax, 1) * (viridisStops.length - 1);
  const i = Math.min(Math.floor(t), viridisStops.length - 2);
  const f = t - i;
  const rgb = k => parseInt(viridisStops[i].substr(k, 2), 16) * (1 - f) + parseInt(viridisStops[i + 1].substr(k, 2), 16) * f;
  return `rgb(${Math.round(rgb(1))},${Math.round(rgb(3))},${Math.round(rgb(5))})`;
}

Chart.defaults.font.family = "'DejaVu Sans', sans-serif";
Chart.defaults.color = '#000';

const LW = 3.33;

// axes frame on all four sides
const frame = {
  id: 'frame',
  afterDraw(chart) {
    const { ctx, chartArea: a } = chart;
    ctx.save();
    ctx.strokeStyle = '#000';
    ctx.lineWidth = LW;
    ctx.strokeRect(a.left, a.top, a.right - a.left, a.bottom - a.top);
    ctx.restore();
  }
};

const tickLabel = v => String(v).replace('-', '\u2212');

// canvas "middle" sits a little above matplotlib's digit centre, push y labels down
function nudgeLabels(scale) {
  if (scale._nudged) return;
  const orig = scale._computeLabelItems;
  scale._computeLabelItems = function (area) {
    const items = orig.call(this, area);
    items.forEach(it => { it.options.translation[1] += 3; });
    return items;
  };
  scale._nudged = true;
}

new Chart(document.getElementById('scatter'), {
  type: 'scatter',
  data: {
    datasets: [{
      data: allPoints.map(p => ({ x: p[0], y: p[1] })),
      pointBackgroundColor: allPoints.map(p => viridis(p[2])),
      pointRadius: 7.8,
      pointBorderWidth: 0
    }]
  },
  plugins: [frame],
  options: {
    responsive: false,
    animation: false,
    devicePixelRatio: 1,
    layout: { padding: { left: 44, right: 472, top: 36, bottom: 47 } },
    plugins: {
      legend: { display: false },
      tooltip: { enabled: false },
      title: {
        display: true,
        fullSize: false,
        text: ['Ethereum transfers in graph-augmented feature space', 'colored by anomaly score'],
        color: '#000',
        font: { size: 50, weight: 'normal', lineHeight: 1.12 },
        padding: { top: 0, bottom: 10 }
      }
    },
    scales: {
      x: {
        min: -18.72,
        max: 28.94,
        afterBuildTicks(scale) { scale.ticks = xTicks.map(v => ({ value: v })); },
        afterFit(scale) { scale.height = 1800 - 1625 - 47; },
        grid: { drawOnChartArea: false, tickLength: 15, tickColor: '#000', tickWidth: LW },
        border: { display: false },
        ticks: { autoSkip: false, maxRotation: 0, padding: 14, font: { size: 41.67 }, callback: tickLabel },
        title: { display: true, text: 'UMAP-1', font: { size: 41.67 }, color: '#000', padding: 0 }
      },
      y: {
        min: -18.8,
        max: 28.92,
        afterBuildTicks(scale) { nudgeLabels(scale); scale.ticks = yTicks.map(v => ({ value: v })); },
        afterFit(scale) { scale.width = 222 - 44; },
        grid: { drawOnChartArea: false, tickLength: 15, tickColor: '#000', tickWidth: LW },
        border: { display: false },
        ticks: { autoSkip: false, padding: 14, font: { size: 41.67 }, callback: tickLabel },
        title: { display: true, text: 'UMAP-2', font: { size: 41.67 }, color: '#000', padding: 0 }
      }
    }
  }
});

// colorbar: one bar over the full range, filled with the colormap
new Chart(document.getElementById('colorbar'), {
  type: 'bar',
  data: {
    labels: ['score'],
    datasets: [{
      data: [scoreMax],
      barPercentage: 1,
      categoryPercentage: 1,
      backgroundColor(c) {
        const a = c.chart.chartArea;
        if (!a) return '#000';
        const g = c.chart.ctx.createLinearGradient(0, a.bottom, 0, a.top);
        viridisStops.forEach((col, i) => g.addColorStop(i / (viridisStops.length - 1), col));
        return g;
      }
    }]
  },
  plugins: [frame],
  options: {
    responsive: false,
    animation: false,
    devicePixelRatio: 1,
    layout: { padding: { left: 36, right: 125, top: 158, bottom: 175 } },
    plugins: { legend: { display: false }, tooltip: { enabled: false }, title: { display: false } },
    scales: {
      x: { display: false },
      y: {
        position: 'right',
        min: 0,
        max: scoreMax,
        afterBuildTicks(scale) { nudgeLabels(scale); scale.ticks = barTicks.map(v => ({ value: v })); },
        afterFit(scale) { scale.width = 400 - 36 - 72 - 125; },
        grid: { drawOnChartArea: false, tickLength: 15, tickColor: '#000', tickWidth: LW },
        border: { display: false },
        ticks: { autoSkip: false, padding: 14, font: { size: 41.67 }, callback: v => v.toFixed(1) },
        title: { display: true, text: 'Anomaly score (IsolationForest)', font: { size: 41.67 }, color: '#000', padding: 0 }
      }
    }
  }
});
</script>
</body>
</html>
